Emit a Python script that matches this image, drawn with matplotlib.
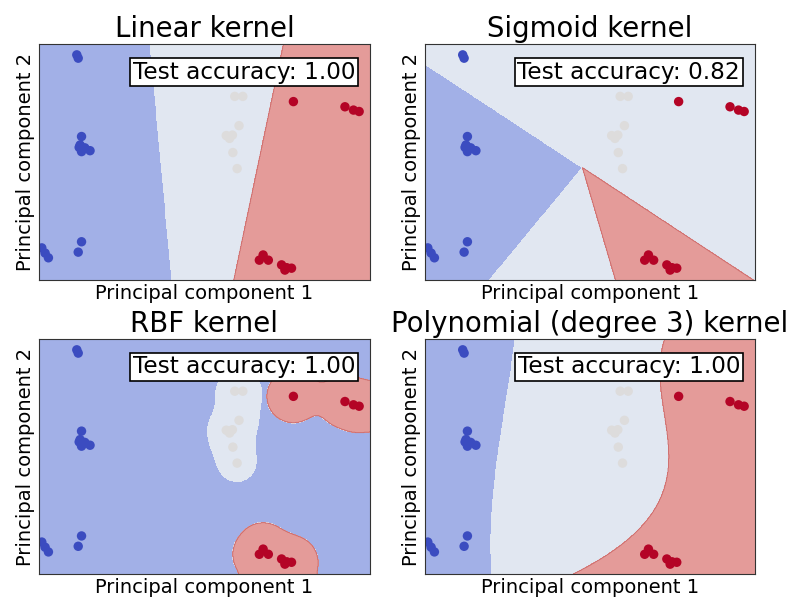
import numpy as np
import matplotlib
matplotlib.use("Agg")
import matplotlib.pyplot as plt

# projected samples (first two principal components) and their class
pc1 = [-2.70, -2.67, -2.60, -2.63, -2.60, -2.53, -2.42, -2.65, -3.44, -3.37, -3.30, -2.60, -2.67,
       0.64, 0.81, 0.73, 0.46, 0.59, 0.53, 0.60, 0.69,
       1.88, 2.97, 3.15, 3.27, 1.24, 1.16, 1.35, 1.63, 1.74, 1.84, 1.70]
pc2 = [2.27, 2.20, 0.54, 0.36, 0.22, 0.30, 0.24, 0.31, -1.82, -1.93, -2.03, -1.69, -1.91,
       1.39, 1.39, 0.77, 0.56, 0.57, 0.50, 0.20, -0.14,
       1.28, 1.17, 1.10, 1.07, -1.97, -2.08, -2.08, -2.18, -2.24, -2.25, -2.29]
label = [0] * 13 + [1] * 8 + [2] * 11

titles = ["Linear kernel", "Sigmoid kernel", "RBF kernel", "Polynomial (degree 3) kernel"]
accuracy = [1.00, 0.82, 1.00, 1.00]

# linear boundaries: x = a + b*y
lin_a = [-0.92, 1.145]
lin_b = [-0.092, 0.21]
# sigmoid: vertex and ray angles (deg)
sig_vertex = (-0.16, -0.12)
sig_blue = (146.7, -129.6)
sig_red = (-73.6, -33.3)
# rbf: reach around gray / red samples, and smoothing
rbf_radius = [0.45, 0.58]
rbf_smooth = [0.22, 0.14]
# polynomial boundaries (y, x)
poly_y1 = [2.5, 1.65, 0.36, -0.85, -2.5]
poly_x1 = [-1.59, -1.70, -1.91, -2.05, -2.08]
poly_y2 = [2.5, 2.0, 0.91, -0.16, -1.02, -1.59, -2.16, -2.5]
poly_x2 = [1.56, 1.52, 1.59, 1.63, 1.42, 0.99, 0.35, -0.42]

region_colors = ["#a2b0e7", "#e1e7f1", "#e49b99"]

X = np.array(pc1)
Y = np.array(pc2)
lab = np.array(label)

gx = np.linspace(-3.5, 3.5, 701)
gy = np.linspace(-2.5, 2.5, 501)
xx, yy = np.meshgrid(gx, gy)
step = gx[1] - gx[0]


def linear_regions():
    Z = np.ones_like(xx)
    Z[xx < lin_a[0] + lin_b[0] * yy] = 0
    Z[xx > lin_a[1] + lin_b[1] * yy] = 2
    return Z


def sigmoid_regions():
    ang = np.degrees(np.arctan2(yy - sig_vertex[1], xx - sig_vertex[0]))
    Z = np.ones_like(xx)
    Z[(ang > sig_blue[0]) | (ang < sig_blue[1])] = 0
    Z[(ang > sig_red[0]) & (ang < sig_red[1])] = 2
    return Z


def blur(a, sig):
    n = int(sig / step)
    k = np.exp(-0.5 * (np.arange(-3 * n, 3 * n + 1) / n) ** 2)
    k /= k.sum()
    a = np.pad(a, 3 * n, mode="edge")
    a = np.apply_along_axis(lambda r: np.convolve(r, k, mode="valid"), 1, a)
    a = np.apply_along_axis(lambda r: np.convolve(r, k, mode="valid"), 0, a)
    return a


def rbf_regions():
    Z = np.zeros_like(xx)
    for c in [1, 2]:
        dmin = np.full(xx.shape, np.inf)
        for px, py in zip(X[lab == c], Y[lab == c]):
            dmin = np.minimum(dmin, np.hypot(xx - px, yy - py))
        inside = blur((dmin < rbf_radius[c - 1]).astype(float), rbf_smooth[c - 1])
        Z[inside > 0.5] = c
    return Z


def poly_regions():
    p1 = np.polyfit(poly_y1, poly_x1, 3)
    p2 = np.polyfit(poly_y2, poly_x2, 3)
    Z = np.ones_like(xx)
    Z[xx < np.polyval(p1, yy)] = 0
    Z[xx > np.polyval(p2, yy)] = 2
    return Z


regions = [linear_regions(), sigmoid_regions(), rbf_regions(), poly_regions()]
rects = [[0.0492, 0.5318, 0.418, 0.3946],
         [0.5366, 0.5318, 0.4167, 0.3946],
         [0.0492, 0.0401, 0.418, 0.393],
         [0.5366, 0.0401, 0.4167, 0.393]]

fig = plt.figure(figsize=(7.92, 5.98), dpi=100)
for i in range(4):
    ax = fig.add_axes(rects[i])
    ax.contourf(xx, yy, regions[i], levels=[-0.5, 0.5, 1.5, 2.5], colors=region_colors)
    ax.contour(xx, yy, regions[i], levels=[1.5], colors="#cc6a6a", linewidths=0.6)
    ax.scatter(X, Y, c=lab, cmap=plt.cm.coolwarm, vmin=0, vmax=2, s=46, linewidths=0)
    ax.set_xlim(-3.5, 3.5)
    ax.set_ylim(-2.5, 2.5)
    ax.set_xticks([])
    ax.set_yticks([])
    ax.set_xlabel("Principal component 1", fontsize=14, labelpad=3)
    ax.set_ylabel("Principal component 2", fontsize=14, labelpad=3)
    ax.set_title(titles[i], fontsize=19.8, pad=5)
    ax.text(0.955, 0.93, "Test accuracy: %.2f" % accuracy[i], transform=ax.transAxes,
            ha="right", va="top", fontsize=16.7,
            bbox=dict(boxstyle="square,pad=0.12", fc="white", ec="black", lw=1.2))
    for s in ax.spines.values():
        s.set_color("#333333")

fig.savefig("out.png", dpi=100)
